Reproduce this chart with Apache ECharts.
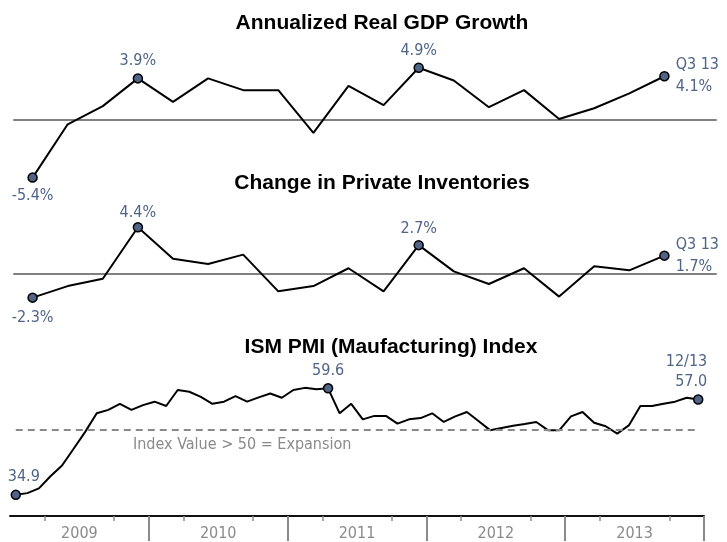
<!DOCTYPE html>
<html lang="en">
    <head>
        <meta charset="UTF-8" />
        <title>GDP, Inventories and ISM PMI</title>
        <script src="https://cdn.jsdelivr.net/npm/echarts@6/dist/echarts.min.js"></script>
        <style>
            html, body { margin: 0; padding: 0; background: #fff; }
            #chart { width: 727px; height: 542px; }
        </style>
    </head>
    <body>
        <div id="chart"></div>

        <script>
            // quarterly series, Q1 2009 - Q3 2013
            var quarters = ['Q1 09', 'Q2 09', 'Q3 09', 'Q4 09', 'Q1 10', 'Q2 10', 'Q3 10', 'Q4 10',
                'Q1 11', 'Q2 11', 'Q3 11', 'Q4 11', 'Q1 12', 'Q2 12', 'Q3 12', 'Q4 12',
                'Q1 13', 'Q2 13', 'Q3 13'];
            var gdpGrowth = [-5.4, -0.4, 1.3, 3.9, 1.7, 3.9, 2.8, 2.8, -1.2, 3.2, 1.4, 4.9,
                3.7, 1.2, 2.8, 0.1, 1.1, 2.5, 4.1];
            var inventories = [-2.3, -1.2, -0.5, 4.4, 1.4, 0.9, 1.8, -1.7, -1.2, 0.5, -1.7, 2.7,
                0.2, -1.0, 0.5, -2.2, 0.7, 0.3, 1.7];

            // monthly ISM PMI, 1/09 - 12/13
            var years = ['2009', '2010', '2011', '2012', '2013'];
            var pmiMonths = [];
            years.forEach(function (y) {
                for (var m = 1; m <= 12; m++) pmiMonths.push(m + '/' + y.slice(2));
            });
            var pmiIndex = [
                34.9, 35.3, 36.4, 39.2, 41.7, 45.6, 49.5, 53.8, 54.6, 56.0, 54.6, 55.7,
                56.5, 55.5, 59.2, 58.8, 57.6, 56.0, 56.5, 57.8, 56.5, 57.5, 58.4, 57.4,
                59.2, 59.7, 59.4, 59.6, 53.8, 56.0, 52.4, 53.2, 53.2, 51.4, 52.4, 52.7,
                53.8, 51.8, 53.1, 54.1, 52.0, 49.9, 50.4, 50.9, 51.3, 51.8, 49.9, 49.9,
                53.1, 54.1, 51.6, 50.8, 49.1, 51.0, 55.5, 55.5, 56.0, 56.5, 57.4, 57.0
            ];
            var expansionLevel = 50;

            // condensed face: font-stretch goes into the canvas font shorthand via fontStyle
            var narrow = '"DejaVu Sans"';
            var stretch = 'condensed';
            var markColor = '#4f6487';
            var greyText = '#8a8a8a';

            var baseLabel = {
                show: true,
                color: markColor,
                fontFamily: narrow,
                fontStyle: stretch,
                fontSize: 16,
                lineHeight: 22
            };

            function pctLabel(p) {
                var s = p.value[1].toFixed(1) + '%';
                return p.dataIndex === quarters.length - 1 ? quarters[p.dataIndex] + '\n' + s : s;
            }

            // which points get a dot + label, and where the label goes
            var gdpMarks = {
                0: { position: 'bottom', distance: 2 },
                3: { position: 'top', distance: 1 },
                11: { position: 'top', distance: 1 },
                18: { position: 'right', distance: 6 }
            };
            var inventoryMarks = {
                0: { position: 'bottom', distance: 3.5 },
                3: { position: 'top', distance: -2 },
                11: { position: 'top', distance: 0.5 },
                18: { position: 'right', distance: 6 }
            };
            var pmiMarks = {
                0: { position: 'top', distance: 2, offset: [8, 0] },
                27: { position: 'top', distance: 1 },
                59: { position: 'top', distance: 2.5, align: 'right', offset: [9, 0], lineHeight: 20 }
            };

            function buildData(values, marks, asPairs) {
                return values.map(function (v, i) {
                    var item = { value: asPairs ? [i, v] : v };
                    if (marks[i]) {
                        item.symbol = 'circle';
                        item.label = Object.assign({}, baseLabel, marks[i]);
                    }
                    return item;
                });
            }

            function lineSeries(idx, data, formatter) {
                return {
                    type: 'line',
                    xAxisIndex: idx,
                    yAxisIndex: idx,
                    data: data,
                    symbol: 'none',
                    symbolSize: 9,
                    showAllSymbol: true,
                    lineStyle: { color: '#000', width: 2 },
                    itemStyle: { color: markColor, borderColor: '#000', borderWidth: 1.5 },
                    label: { formatter: formatter },
                    emphasis: { disabled: true },
                    z: 3
                };
            }

            function quarterAxis(gridIndex) {
                return {
                    type: 'value',
                    gridIndex: gridIndex,
                    min: -0.53,
                    max: 19.47,
                    axisLine: { show: true, onZero: true, lineStyle: { color: '#808080', width: 2 } },
                    axisTick: { show: false },
                    axisLabel: { show: false },
                    splitLine: { show: false }
                };
            }

            var myChart = echarts.init(document.getElementById('chart'));

            var titleStyle = { fontFamily: '"Liberation Sans", Arial, sans-serif', fontWeight: 'bold', fontSize: 21, color: '#000' };

            var option = {
                animation: false,
                title: [
                    { text: 'Annualized Real GDP Growth', left: 377, top: 8, textAlign: 'center', textStyle: titleStyle },
                    { text: 'Change in Private Inventories', left: 377, top: 168, textAlign: 'center', textStyle: titleStyle },
                    { text: 'ISM PMI (Maufacturing) Index', left: 386, top: 332, textAlign: 'center', textStyle: titleStyle }
                ],
                grid: [
                    { left: 14, right: 11, top: 56, height: 128 },
                    { left: 14, right: 11, top: 221, height: 84 },
                    { left: 10, right: 23, top: 365, height: 152 }
                ],
                xAxis: [
                    quarterAxis(0),
                    quarterAxis(1),
                    {
                        type: 'category',
                        gridIndex: 2,
                        data: pmiMonths,
                        boundaryGap: true,
                        position: 'bottom',
                        axisLine: { show: true, onZero: false, lineStyle: { color: '#111', width: 2 } },
                        axisTick: {
                            show: true,
                            length: 5,
                            interval: function (i) { return i % 3 === 0 && i % 12 !== 0 && i % 12 !== 6; },
                            lineStyle: { color: greyText, width: 1.5 }
                        },
                        axisLabel: { show: false },
                        splitLine: { show: false }
                    },
                    {
                        type: 'category',
                        gridIndex: 2,
                        data: years,
                        boundaryGap: true,
                        position: 'bottom',
                        axisLine: { show: false, onZero: false },
                        axisTick: {
                            show: true,
                            length: 25,
                            interval: function (i) { return i > 0; },
                            lineStyle: { color: greyText, width: 2 }
                        },
                        axisLabel: { color: greyText, fontFamily: narrow, fontStyle: stretch, fontSize: 16, margin: 10, interval: 0 },
                        splitLine: { show: false }
                    }
                ],
                yAxis: [
                    { type: 'value', gridIndex: 0, min: -6, max: 6, show: false },
                    { type: 'value', gridIndex: 1, min: -3, max: 5, show: false },
                    { type: 'value', gridIndex: 2, min: 30, max: 65, show: false }
                ],
                graphic: [
                    {
                        type: 'text',
                        left: 133,
                        top: 437,
                        style: {
                            text: 'Index Value > 50 = Expansion',
                            fill: greyText,
                            fontFamily: narrow,
                            fontStyle: stretch,
                            fontSize: 16
                        }
                    }
                ],
                series: [
                    lineSeries(0, buildData(gdpGrowth, gdpMarks, true), pctLabel),
                    lineSeries(1, buildData(inventories, inventoryMarks, true), pctLabel),
                    Object.assign(lineSeries(2, buildData(pmiIndex, pmiMarks, false), function (p) {
                        var s = p.value.toFixed(1);
                        return p.dataIndex === pmiIndex.length - 1 ? pmiMonths[p.dataIndex] + '\n' + s : s;
                    }), {
                        markLine: {
                            silent: true,
                            symbol: 'none',
                            label: { show: false },
                            lineStyle: { color: greyText, width: 2, type: [7, 5] },
                            data: [[
                                { coord: [pmiMonths[0], expansionLevel] },
                                { coord: [pmiMonths[pmiMonths.length - 1], expansionLevel] }
                            ]]
                        }
                    })
                ]
            };

            myChart.setOption(option);

            window.addEventListener('resize', function () {
                myChart.resize();
            });
        </script>
    </body>
</html>
